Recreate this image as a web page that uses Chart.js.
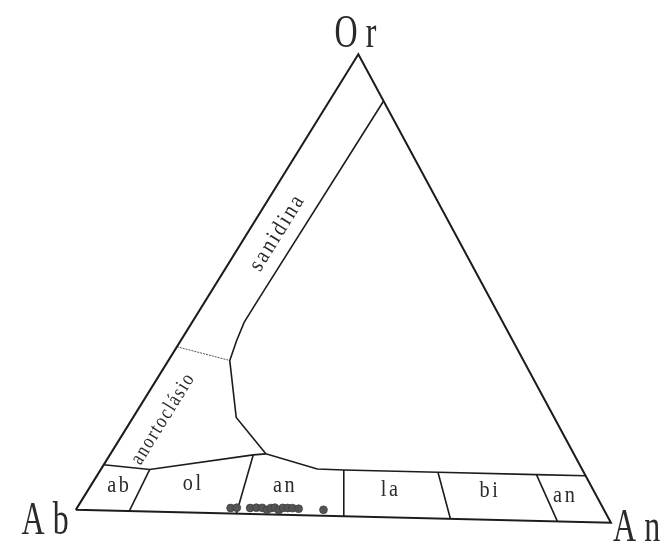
<!DOCTYPE html>
<html>
<head>
<meta charset="utf-8">
<script src="https://cdn.jsdelivr.net/npm/chart.js@4.4.1/dist/chart.umd.min.js"></script>
<style>
    html, body { margin: 0; padding: 0; background: #fff; }
    #wrap { width: 667px; height: 552px; }
</style>
</head>
<body>
<div id="wrap"><canvas id="chart" width="667" height="552"></canvas></div>
<script>
// Feldspar ternary Ab - An - Or. Values are mol %: An and Or, Ab is the remainder.

// analysed feldspars (all plot in the andesine field, near the Ab-An join)
const sampleAn = [28.3, 29.4, 31.9, 33.0, 34.1, 35.2, 35.7, 36.4, 37.4, 37.9, 38.8, 39.7, 40.9, 45.6];
const sampleOr = [1.2, 1.3, 1.3, 1.4, 1.4, 1.0, 1.4, 1.5, 1.0, 1.5, 1.5, 1.5, 1.4, 1.3];

// sanidine / plagioclase boundary (from the Or-An side down to the plagioclase band)
const sanidineAn = [10.0, 9.6, 9.6, 10.3, 11.3, 19.0, 28.6];
const sanidineOr = [90.0, 46.4, 41.4, 37.4, 33.1, 20.8, 13.1];

// upper limit of the plagioclase band
const bandTopAn = [0, 9.0, 26.4, 28.6, 39.8, 44.8, 62.4, 80.8, 90.0];
const bandTopOr = [9.9, 9.1, 12.8, 13.1, 10.1, 10.0, 10.0, 10.0, 10.0];

// plagioclase field dividers: base on the Ab-An join, top on the band limit
const dividerBaseAn = [10, 30, 50, 70, 90];
const dividerTopAn = [9.0, 26.4, 44.8, 62.4, 80.8];
const dividerTopOr = [9.1, 12.8, 10.0, 10.0, 10.0];

// anorthoclase / sanidine limit (thin line)
const anorthoclaseAn = [0, 11.3];
const anorthoclaseOr = [35.8, 33.1];

// field names
const fieldNames = ['ab', 'ol', 'an', 'la', 'bi', 'an'];
const sideNames = ['sanidina', 'anortoclásio'];
const cornerNames = ['Or', 'Ab', 'An'];

// ---- layout ----
// triangle as it sits on the scanned page (slightly tilted)
const CORNER_AB = { x: 0, y: 0 };
const CORNER_AN = { x: 100, y: -2.4 };
const CORNER_OR = { x: 52.8, y: 85.4 };
const PX_PER_UNIT = 5.43;
const ORIGIN = { x: 72, y: 514 };
const W = 667, H = 552;

// label anchors (ternary An, Or)
const fieldLabelPos = [[5.1, 5.3], [18.5, 6.1], [35.6, 6.2], [55.5, 5.9], [73.9, 6.2], [88.3, 5.5]];
const sideLabelPos = [[5.5, 60.8], [5.7, 20.0]];
const sideLabelStyle = [
    { font: '23px "Liberation Serif"', squeeze: 0.88, gap: 2.7 },
    { font: '21px "Liberation Serif"', squeeze: 0.8, gap: 2.3 }
];
// corner label offsets in pixels from each vertex
const cornerLabelOffset = [
    { corner: [0, 100], dx: -3, dy: -7, align: 'center' },
    { corner: [0, 0], dx: -7, dy: 24, align: 'right' },
    { corner: [100, 0], dx: 2, dy: 18, align: 'left' }
];

const LINE = '#1c1c1c';
const INK = '#2a2a2a';

/**
 * Ternary (An, Or) to plot coordinates
 */
function tern(an, or) {
    const ab = 100 - an - or;
    return {
        x: (ab * CORNER_AB.x + an * CORNER_AN.x + or * CORNER_OR.x) / 100,
        y: (ab * CORNER_AB.y + an * CORNER_AN.y + or * CORNER_OR.y) / 100
    };
}

function lineSet(points, width, color, dash) {
    return {
        data: points,
        showLine: true,
        pointRadius: 0,
        borderColor: color || LINE,
        borderWidth: width,
        borderDash: dash || [],
        fill: false,
        clip: false
    };
}

/**
 * Draw text char by char with a gap, squeezed horizontally
 */
function spacedText(ctx, text, x, y, opts) {
    ctx.save();
    ctx.translate(x, y);
    if (opts.angle) ctx.rotate(opts.angle);
    ctx.scale(opts.squeeze, 1);
    ctx.font = opts.font;
    ctx.fillStyle = INK;
    ctx.textBaseline = opts.baseline || 'middle';
    ctx.textAlign = 'left';
    const chars = [...text];
    const widths = chars.map(c => ctx.measureText(c).width);
    const total = widths.reduce((a, b) => a + b, 0) + opts.gap * (chars.length - 1);
    let cx = opts.align === 'left' ? 0 : opts.align === 'right' ? -total : -total / 2;
    chars.forEach((c, i) => {
        ctx.fillText(c, cx, 0);
        cx += widths[i] + opts.gap;
    });
    ctx.restore();
}

const labelPlugin = {
    id: 'ternaryLabels',
    afterDatasetsDraw(chart) {
        const ctx = chart.ctx;
        const sx = chart.scales.x, sy = chart.scales.y;
        const toPx = (an, or) => {
            const p = tern(an, or);
            return { x: sx.getPixelForValue(p.x), y: sy.getPixelForValue(p.y) };
        };

        // field names inside the plagioclase band
        fieldNames.forEach((name, i) => {
            const p = toPx(fieldLabelPos[i][0], fieldLabelPos[i][1]);
            spacedText(ctx, name, p.x, p.y, { font: '23px "Liberation Serif"', squeeze: 0.88, gap: 3 });
        });

        // names written along the Ab-Or side
        const a = toPx(0, 0), o = toPx(0, 100);
        const angle = Math.atan2(o.y - a.y, o.x - a.x);
        sideNames.forEach((name, i) => {
            const p = toPx(sideLabelPos[i][0], sideLabelPos[i][1]);
            spacedText(ctx, name, p.x, p.y, Object.assign({ angle: angle }, sideLabelStyle[i]));
        });

        // corner names
        cornerNames.forEach((name, i) => {
            const c = cornerLabelOffset[i];
            const p = toPx(c.corner[0], c.corner[1]);
            spacedText(ctx, name, p.x + c.dx, p.y + c.dy, {
                font: '47px "Liberation Serif"', squeeze: 0.68, gap: 12,
                baseline: 'alphabetic', align: c.align
            });
        });
    }
};

document.addEventListener('DOMContentLoaded', function() {
    const samples = sampleAn.map((an, i) => tern(an, sampleOr[i]));
    const outline = [tern(0, 0), tern(100, 0), tern(0, 100), tern(0, 0)];
    const sanidine = sanidineAn.map((an, i) => tern(an, sanidineOr[i]));
    const bandTop = bandTopAn.map((an, i) => tern(an, bandTopOr[i]));
    const anorthoclase = anorthoclaseAn.map((an, i) => tern(an, anorthoclaseOr[i]));
    const dividers = dividerBaseAn.map((an, i) =>
        lineSet([tern(an, 0), tern(dividerTopAn[i], dividerTopOr[i])], 1.6));

    new Chart(document.getElementById('chart'), {
        type: 'scatter',
        data: {
            datasets: [
                {
                    data: samples,
                    pointRadius: 3.9,
                    pointBackgroundColor: '#545454',
                    pointBorderColor: '#404040',
                    pointBorderWidth: 0.8,
                    showLine: false,
                    clip: false
                },
                lineSet(outline, 2),
                lineSet(sanidine, 1.6),
                lineSet(bandTop, 1.6),
                lineSet(anorthoclase, 1, '#555', [2, 1]),
                ...dividers
            ]
        },
        options: {
            responsive: false,
            animation: false,
            layout: { padding: 0 },
            plugins: {
                legend: { display: false },
                tooltip: { enabled: false }
            },
            scales: {
                x: {
                    display: false,
                    min: -ORIGIN.x / PX_PER_UNIT,
                    max: (W - ORIGIN.x) / PX_PER_UNIT
                },
                y: {
                    display: false,
                    min: -(H - ORIGIN.y) / PX_PER_UNIT,
                    max: ORIGIN.y / PX_PER_UNIT
                }
            }
        },
        plugins: [labelPlugin]
    });
});
</script>
</body>
</html>
